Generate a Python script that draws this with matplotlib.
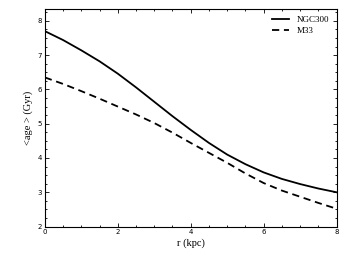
import matplotlib
matplotlib.use("Agg")
import matplotlib.pyplot as plt
from matplotlib.ticker import MultipleLocator

r = [0, 0.5, 1, 1.5, 2, 2.5, 3, 3.5, 4, 4.5, 5, 5.5, 6, 6.5, 7, 7.5, 8]
ngc300 = [7.70, 7.44, 7.14, 6.82, 6.46, 6.06, 5.64, 5.22, 4.82, 4.44, 4.10,
          3.82, 3.58, 3.39, 3.24, 3.11, 3.00]
m33 = [6.35, 6.16, 5.95, 5.73, 5.50, 5.27, 5.02, 4.74, 4.44, 4.15, 3.86,
       3.55, 3.27, 3.05, 2.87, 2.69, 2.52]

fig = plt.figure(figsize=(3.48, 2.61), dpi=100)
ax = fig.add_axes([0.129, 0.132, 0.838, 0.834])

ax.plot(r, ngc300, color="black", lw=1.3, ls="-", label="NGC300")
ax.plot(r, m33, color="black", lw=1.3, ls=(0, (4, 2.6)), label="M33")

ax.set_xlim(0, 8)
ax.set_ylim(2, 8.35)
ax.xaxis.set_major_locator(MultipleLocator(2))
ax.xaxis.set_minor_locator(MultipleLocator(0.5))
ax.yaxis.set_major_locator(MultipleLocator(1))
ax.yaxis.set_minor_locator(MultipleLocator(0.25))
ax.tick_params(which="both", direction="in", top=True, right=True,
               labelsize=5, pad=2, width=0.6)
ax.tick_params(which="major", length=3)
ax.tick_params(which="minor", length=1.6)
for s in ax.spines.values():
    s.set_linewidth(0.8)

serif = ["Liberation Serif", "DejaVu Serif"]
ax.set_xlabel("r (kpc)", family=serif, fontsize=7.5, labelpad=2)
ax.set_ylabel("<age > (Gyr)", family=serif, fontsize=7.5, labelpad=3)

leg = ax.legend(loc="upper right", frameon=False, handlelength=1.9,
                prop={"family": serif, "size": 6.5}, borderaxespad=0.4,
                labelspacing=0.3, handletextpad=0.9)

fig.savefig("out.png", dpi=100)
